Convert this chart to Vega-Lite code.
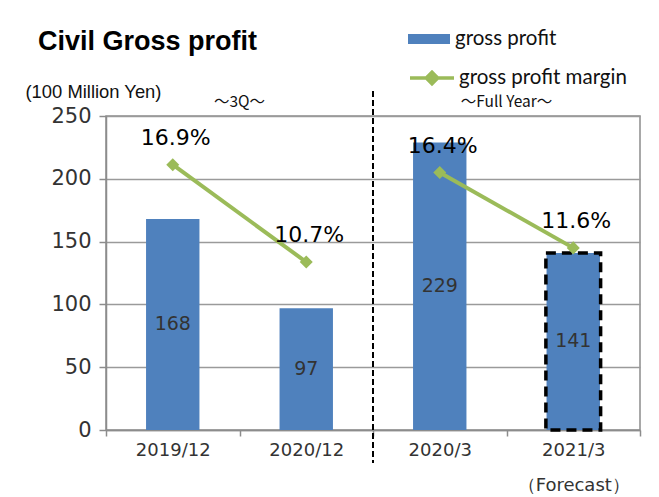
{
  "$schema": "https://vega.github.io/schema/vega-lite/v6.json",
  "width": 534,
  "height": 314,
  "autosize": {"type": "none"},
  "padding": {"left": 106, "top": 116, "right": 19, "bottom": 67},
  "background": "white",
  "config": {
    "font": "Liberation Sans",
    "view": {"stroke": "#8c8c8c", "strokeWidth": 1.5}
  },
  "title": {
    "text": "Civil Gross profit",
    "anchor": "start",
    "frame": "group",
    "fontSize": 27,
    "fontWeight": "bold",
    "font": "Liberation Sans",
    "color": "black",
    "dx": -68,
    "offset": 0,
    "dy": 38
  },
  "datasets": {
    "main": [
      {"period": "2019/12", "group": "3Q", "profit": 168, "margin": 0.169, "forecast": false},
      {"period": "2020/12", "group": "3Q", "profit": 97, "margin": 0.107, "forecast": false},
      {"period": "2020/3", "group": "Full Year", "profit": 229, "margin": 0.164, "forecast": false},
      {"period": "2021/3", "group": "Full Year", "profit": 141, "margin": 0.116, "forecast": true}
    ],
    "notes": [
      {"period": "2020/12", "note": "～3Q～"},
      {"period": "2021/3", "note": "～Full Year～"}
    ]
  },
  "data": {"name": "main"},
  "encoding": {
    "x": {
      "field": "period",
      "type": "nominal",
      "sort": null,
      "scale": {"domain": ["2019/12", "2020/12", "2020/3", "2021/3"], "paddingInner": 0, "paddingOuter": 0},
      "axis": {
        "title": null,
        "labelAngle": 0,
        "labelFont": "DejaVu Sans",
        "labelFontSize": 18,
        "labelColor": "#333",
        "labelPadding": 5,
        "labelLineHeight": 35,
        "labelExpr": "datum.value == '2021/3' ? ['2021/3', '（Forecast）'] : datum.value",
        "tickBand": "extent",
        "tickSize": 6,
        "tickColor": "#8c8c8c",
        "tickWidth": 1.5,
        "domainColor": "#8c8c8c",
        "domainWidth": 1.5,
        "grid": false
      }
    }
  },
  "layer": [
    {
      "layer": [
        {
          "mark": {"type": "bar", "width": {"band": 0.4}},
          "encoding": {
            "y": {
              "field": "profit",
              "type": "quantitative",
              "scale": {"domain": [0, 250], "nice": false},
              "axis": {
                "values": [0, 50, 100, 150, 200, 250],
                "labelFont": "DejaVu Sans",
                "labelFontSize": 21,
                "labelColor": "#333",
                "labelPadding": 8,
                "tickSize": 7,
                "tickColor": "#8c8c8c",
                "tickWidth": 1.5,
                "domainColor": "#8c8c8c",
                "domainWidth": 1.5,
                "gridColor": "#9a9a9a",
                "gridWidth": 1.5,
                "title": "(100 Million Yen)",
                "titleAngle": 0,
                "titleFontSize": 18.4,
                "titleFontWeight": "normal",
                "titleColor": "#111",
                "titleAlign": "left",
                "titleBaseline": "alphabetic",
                "titleX": -81,
                "titleY": -19
              }
            },
            "fill": {
              "datum": "gross profit",
              "scale": {"range": ["#4F81BD"]},
              "legend": {
                "title": null,
                "orient": "none",
                "legendX": 302,
                "legendY": -98,
                "padding": 0,
                "symbolType": "M-1,-0.24H1V0.24H-1Z",
                "symbolSize": 1764,
                "symbolStrokeWidth": 0,
                "symbolOpacity": 1,
                "labelFont": "Lato",
                "labelFontSize": 20.5,
                "labelColor": "#111",
                "labelOffset": 5,
                "labelLimit": 400
              }
            }
          }
        },
        {
          "transform": [{"filter": "datum.forecast"}],
          "mark": {"type": "bar", "width": {"band": 0.41}, "filled": false, "stroke": "black", "strokeWidth": 3.5, "strokeDash": [10, 6]},
          "encoding": {
            "y": {"field": "profit", "type": "quantitative"}
          }
        },
        {
          "mark": {"type": "rule", "color": "black", "strokeWidth": 2, "strokeDash": [6, 3]},
          "encoding": {
            "x": {"datum": "2020/3", "type": "nominal", "bandPosition": 0},
            "y": {"datum": 270, "type": "quantitative"},
            "y2": {"datum": -26}
          }
        },
        {
          "data": {"name": "notes"},
          "mark": {"type": "text", "fontSize": 15.5, "font": "Noto Sans CJK JP", "color": "#111", "baseline": "middle"},
          "encoding": {
            "x": {"field": "period", "type": "nominal", "bandPosition": 0},
            "y": {"datum": 261, "type": "quantitative"},
            "text": {"field": "note"}
          }
        }
      ]
    },
    {
      "layer": [
        {
          "mark": {"type": "line", "strokeWidth": 4},
          "encoding": {
            "y": {"field": "margin", "type": "quantitative", "scale": {"domain": [0, 0.2], "nice": false}, "axis": null},
            "detail": {"field": "group"},
            "stroke": {
              "datum": "gross profit margin",
              "scale": {"range": ["#9BBB59"]},
              "legend": {
                "title": null,
                "orient": "none",
                "legendX": 302,
                "legendY": -62,
                "padding": 0,
                "symbolType": "M-1,0H1M-0.26,0L0,-0.26L0.26,0L0,0.26Z",
                "symbolSize": 1936,
                "symbolStrokeWidth": 3.5,
                "symbolFillColor": "#9BBB59",
                "labelFont": "Lato",
                "labelFontSize": 20.5,
                "labelColor": "#111",
                "labelOffset": 3,
                "labelLimit": 400
              }
            }
          }
        },
        {
          "mark": {"type": "point", "shape": "diamond", "filled": true, "size": 170, "color": "#9BBB59", "opacity": 1},
          "encoding": {
            "y": {"field": "margin", "type": "quantitative"}
          }
        },
        {
          "mark": {"type": "text", "font": "DejaVu Sans", "fontSize": 22, "color": "black", "dy": -27, "dx": 3, "baseline": "middle"},
          "encoding": {
            "y": {"field": "margin", "type": "quantitative"},
            "text": {"field": "margin", "type": "quantitative", "format": ".1%"}
          }
        }
      ]
    },
    {
      "mark": {"type": "text", "font": "DejaVu Sans", "fontSize": 19, "color": "#333", "baseline": "middle"},
      "encoding": {
        "y": {"field": "profit", "type": "quantitative", "scale": {"domain": [0, 500], "nice": false}, "axis": null},
        "text": {"field": "profit", "type": "quantitative"}
      }
    }
  ],
  "resolve": {"scale": {"y": "independent"}}
}
